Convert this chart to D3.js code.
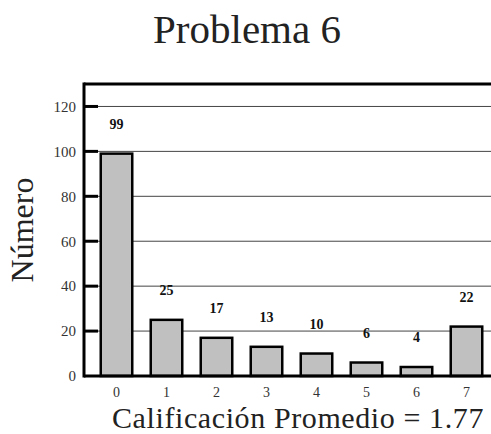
<!DOCTYPE html>
<html>
<head>
<meta charset="utf-8">
<script src="https://cdn.jsdelivr.net/npm/d3@7/dist/d3.min.js"></script>
<style>
  html, body { margin: 0; padding: 0; background: #fff; }
  svg { display: block; }
  text { font-family: "Liberation Serif", "DejaVu Serif", serif; }
</style>
</head>
<body>
<svg id="chart" width="491" height="434"></svg>
<script>
const categories = ["0", "1", "2", "3", "4", "5", "6", "7"];
const values = [99, 25, 17, 13, 10, 6, 4, 22];
const yTicks = [0, 20, 40, 60, 80, 100, 120];
const title = "Problema 6";
const xTitle = "Calificación Promedio = 1.77";
const yTitle = "Número";

const svg = d3.select("#chart");
const pL = 84, pT = 84, pR = 491, pB = 376;

const x = d3.scaleBand().domain(categories).range([91.5, 491.5])
  .paddingInner(0.37).paddingOuter(0.185);
const y = d3.scaleLinear().domain([0, 130]).range([pB, pT]);

// gridlines
svg.append("g").selectAll("line").data(yTicks.filter(d => d > 0)).join("line")
  .attr("x1", pL + 14).attr("x2", pR)
  .attr("y1", d => y(d)).attr("y2", d => y(d))
  .attr("stroke", "#444").attr("stroke-width", 1);

// bars
svg.append("g").selectAll("rect").data(values).join("rect")
  .attr("x", (d, i) => x(categories[i]))
  .attr("y", d => y(d))
  .attr("width", x.bandwidth())
  .attr("height", d => pB - y(d))
  .attr("fill", "#c0c0c0")
  .attr("stroke", "#000")
  .attr("stroke-width", 2.5);

// value labels
svg.append("g").selectAll("text").data(values).join("text")
  .attr("x", (d, i) => x(categories[i]) + x.bandwidth() / 2)
  .attr("y", d => y(d) - 25)
  .attr("text-anchor", "middle")
  .attr("font-size", 14).attr("font-weight", "bold").attr("fill", "#111")
  .text(d => d);

// y axis
const yAxis = d3.axisLeft(y).tickValues(yTicks).tickSize(0).tickPadding(8);
const yg = svg.append("g").attr("transform", `translate(${pL},0)`).call(yAxis);
yg.select(".domain").remove();
yg.selectAll("text").attr("font-size", 15).attr("fill", "#333")
  .attr("font-family", "Liberation Serif, serif");
// inner thick tick marks
svg.append("g").selectAll("line").data(yTicks.filter(d => d > 0)).join("line")
  .attr("x1", pL).attr("x2", pL + 14)
  .attr("y1", d => y(d)).attr("y2", d => y(d))
  .attr("stroke", "#000").attr("stroke-width", 3);

// x axis labels
const xAxis = d3.axisBottom(x).tickSize(0).tickPadding(11);
const xg = svg.append("g").attr("transform", `translate(0,${pB})`).call(xAxis);
xg.select(".domain").remove();
xg.selectAll("text").attr("font-size", 14).attr("fill", "#333")
  .attr("font-family", "Liberation Serif, serif");

// frame
svg.append("line").attr("x1", pL).attr("x2", pR).attr("y1", pT).attr("y2", pT)
  .attr("stroke", "#000").attr("stroke-width", 3);
svg.append("line").attr("x1", pL).attr("x2", pL).attr("y1", pT - 1.5).attr("y2", pB + 1.5)
  .attr("stroke", "#000").attr("stroke-width", 3);
svg.append("line").attr("x1", pL).attr("x2", pR).attr("y1", pB).attr("y2", pB)
  .attr("stroke", "#000").attr("stroke-width", 3);

// titles
svg.append("text").attr("x", 247).attr("y", 43).attr("text-anchor", "middle")
  .attr("font-size", 41).attr("fill", "#222").text(title);
svg.append("text").attr("x", 298).attr("y", 427.5).attr("text-anchor", "middle")
  .attr("font-size", 30).attr("letter-spacing", 0.6).attr("fill", "#222").text(xTitle);
svg.append("text").attr("transform", "translate(33,230) rotate(-90)")
  .attr("text-anchor", "middle").attr("font-size", 32).attr("fill", "#222").text(yTitle);
</script>
</body>
</html>
